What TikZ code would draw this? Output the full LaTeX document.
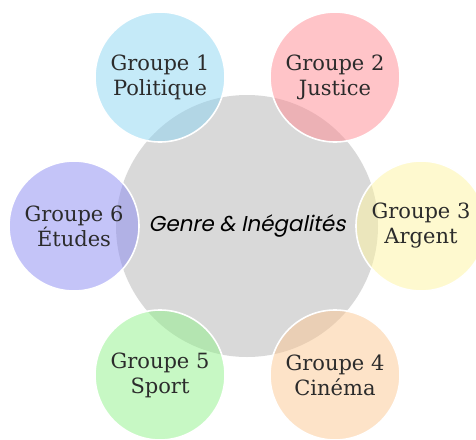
\documentclass[tikz,border=0pt]{standalone}
\usepackage{fontspec}
\setmainfont{DejaVu Serif}
\newfontfamily\centerfont{Poppins}[FakeSlant=0.2]
\definecolor{gbg}{HTML}{D9D9D9}
\definecolor{c1}{HTML}{8CD5F2}
\definecolor{c2}{HTML}{FF8A92}
\definecolor{c3}{HTML}{FDF4A0}
\definecolor{c4}{HTML}{FBC792}
\definecolor{c5}{HTML}{90F28A}
\definecolor{c6}{HTML}{8A8AF2}
\definecolor{txt}{HTML}{2B2B2B}
\tikzset{
  sat/.style={circle, minimum size=130pt, inner sep=0pt, draw=white, line width=1.6pt,
    fill=#1, fill opacity=0.5, text opacity=1, text=txt, align=center,
    font=\fontsize{21}{25}\selectfont},
  hub/.style={circle, minimum size=262pt, inner sep=0pt, fill=gbg, text=black,
    font=\centerfont\fontsize{21.5}{24}\selectfont}
}
\begin{document}
\begin{tikzpicture}[x=1pt,y=-1pt]
\useasboundingbox (0,0) rectangle (476,439);
\node[hub] (hub) at (247,226) {Genre \& Inégalités};
\node[sat=c1] (g1) at (160,77) {Groupe 1\\Politique};
\node[sat=c2] (g2) at (335,77) {Groupe 2\\Justice};
\node[sat=c3] (g3) at (421,226) {Groupe 3\\Argent};
\node[sat=c4] (g4) at (335,375) {Groupe 4\\Cinéma};
\node[sat=c5] (g5) at (160,375) {Groupe 5\\Sport};
\node[sat=c6] (g6) at (74,226) {Groupe 6\\Études};
\end{tikzpicture}
\end{document}
